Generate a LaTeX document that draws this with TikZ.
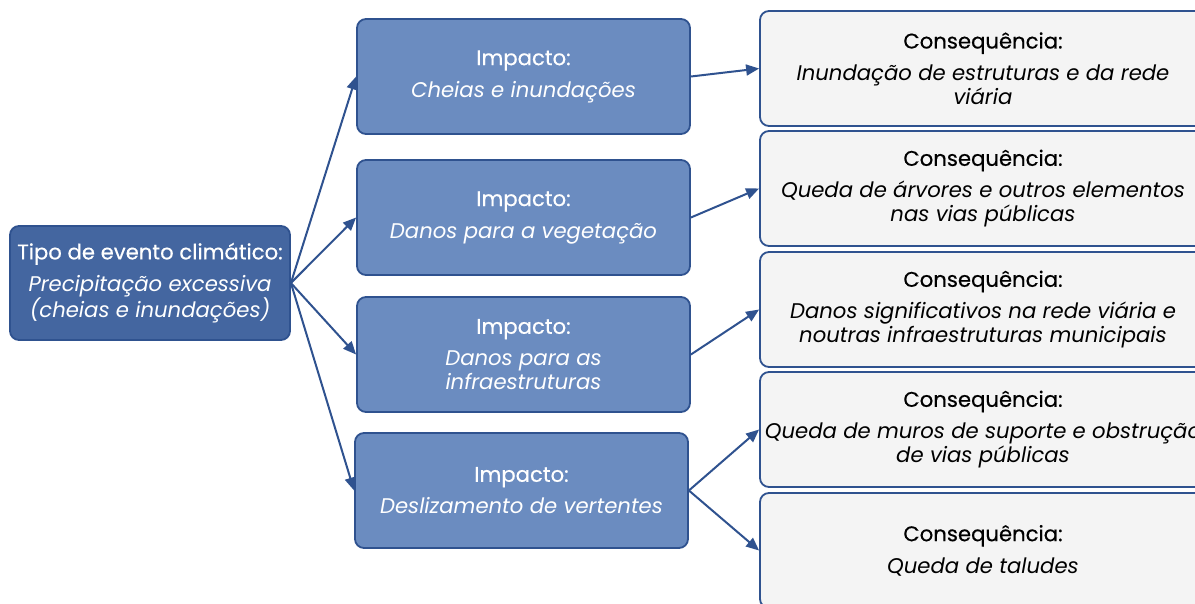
\documentclass[tikz,border=0pt]{standalone}
\usepackage{fontspec}
\setmainfont{Poppins}
\newfontfamily\ttlfont[FakeBold=0.4]{Poppins}
\usetikzlibrary{arrows.meta}
\definecolor{srcfill}{HTML}{4466A0}
\definecolor{impfill}{HTML}{6B8CC0}
\definecolor{confill}{HTML}{F4F4F4}
\definecolor{edge}{HTML}{2F528F}
\tikzset{
  box/.style={draw=edge, line width=1.8pt, rounded corners=9pt, align=center, inner sep=0pt,
    font=\fontsize{21.2}{24}\selectfont},
  srcbox/.style={box, fill=srcfill, text=white, minimum width=280pt, minimum height=114pt},
  impbox/.style={box, fill=impfill, text=white, minimum width=333pt, minimum height=115pt},
  conbox/.style={box, fill=confill, text=black, minimum width=446pt, minimum height=115pt},
  conn/.style={draw=edge, line width=2pt, -{Triangle[length=13pt,width=11pt]}}
}
\newcommand{\ttl}[1]{{\ttlfont #1}\\[8pt]}
\begin{document}
\begin{tikzpicture}[x=1pt,y=-1pt]
\useasboundingbox (0,0) rectangle (1195,603);
\clip (0,0) rectangle (1195,603);
\node[srcbox] (s) at (150,283) {\ttl{Tipo de evento climático:}\textit{Precipitação excessiva}\\\textit{(cheias e inundações)}};
\node[impbox] (i1) at (523.5,76.5) {\ttl{Impacto:}\textit{Cheias e inundações}};
\node[impbox] (i2) at (523.5,217.5) {\ttl{Impacto:}\textit{Danos para a vegetação}};
\node[impbox] (i3) at (523.5,354.5) {\ttl{Impacto:}\textit{Danos para as}\\\textit{infraestruturas}};
\node[impbox] (i4) at (521.5,490.5) {\ttl{Impacto:}\textit{Deslizamento de vertentes}};
\node[conbox] (c1) at (983,68.5) {\ttl{Consequência:}\textit{Inundação de estruturas e da rede}\\\textit{viária}};
\node[conbox] (c2) at (983,188.5) {\ttl{Consequência:}\textit{Queda de árvores e outros elementos}\\\textit{nas vias públicas}};
\node[conbox] (c3) at (983,309.5) {\ttl{Consequência:}\textit{Danos significativos na rede viária e}\\\textit{noutras infraestruturas municipais}};
\node[conbox] (c4) at (983,429.5) {\ttl{Consequência:}\textit{Queda de muros de suporte e obstrução}\\\textit{de vias públicas}};
\node[conbox] (c5) at (983,550.5) {\ttl{Consequência:}\textit{Queda de taludes}};
\draw[conn] (s.east) -- (i1.west);
\draw[conn] (s.east) -- (i2.west);
\draw[conn] (s.east) -- (i3.west);
\draw[conn] (s.east) -- (i4.west);
\draw[conn] (i1.east) -- (c1.west);
\draw[conn] (i2.east) -- (c2.west);
\draw[conn] (i3.east) -- (c3.west);
\draw[conn] (i4.east) -- (c4.west);
\draw[conn] (i4.east) -- (c5.west);
\end{tikzpicture}
\end{document}
